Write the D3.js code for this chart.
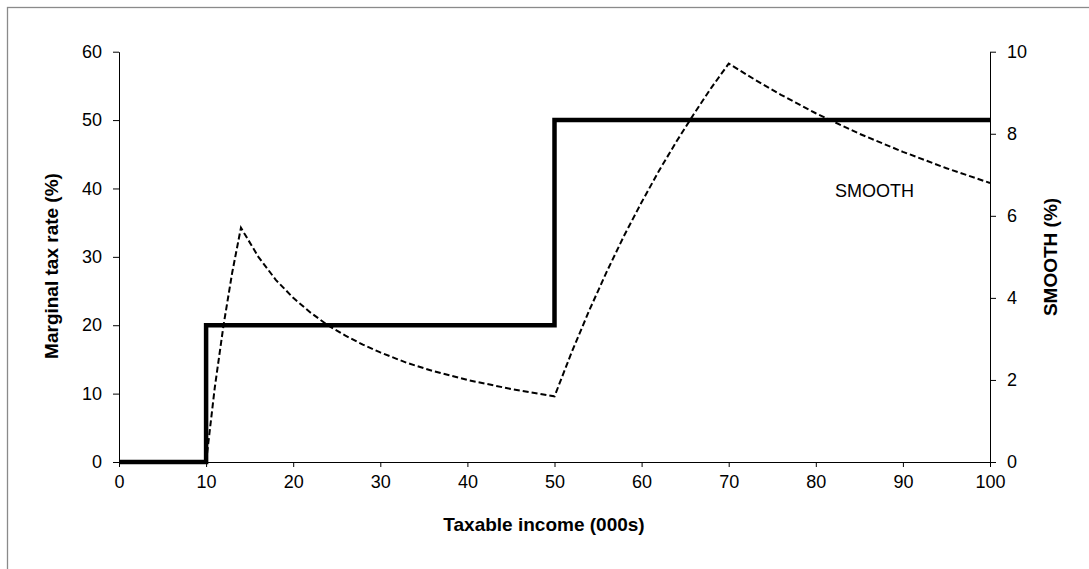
<!DOCTYPE html>
<html>
<head>
<meta charset="utf-8">
<script src="https://cdn.jsdelivr.net/npm/d3@7"></script>
<style>
  html, body { margin: 0; padding: 0; background: #fff; }
  svg { display: block; font-family: "Liberation Sans", Arial, sans-serif; }
</style>
</head>
<body>
<svg id="chart" width="1089" height="569"></svg>
<script>
// ---- data ----
const xTicks = [0, 10, 20, 30, 40, 50, 60, 70, 80, 90, 100];
const leftTicks = [0, 10, 20, 30, 40, 50, 60];
const rightTicks = [0, 2, 4, 6, 8, 10];

// Marginal tax rate (%) by taxable income (000s): step schedule
const rateIncome = [0, 10, 10, 50, 50, 100];
const rateValues = [0, 0, 20, 20, 50, 50];

// SMOOTH (%) by taxable income (000s)
const smoothIncome = [10, 11, 12, 13, 14, 16, 18, 20, 22, 24, 26, 28, 30, 33, 36, 40, 45, 50,
                      52, 54, 56, 58, 60, 62, 64, 66, 68, 70, 73, 76, 80, 85, 90, 95, 100];
const smoothValues = [0, 1.82, 3.33, 4.62, 5.71, 5.0, 4.44, 4.0, 3.64, 3.33, 3.08, 2.86, 2.67, 2.42, 2.22, 2.0, 1.78, 1.6,
                      2.69, 3.70, 4.64, 5.52, 6.33, 7.10, 7.81, 8.48, 9.12, 9.71, 9.32, 8.95, 8.5, 8.0, 7.56, 7.16, 6.8];

const xTitle = "Taxable income (000s)";
const leftTitle = "Marginal tax rate (%)";
const rightTitle = "SMOOTH (%)";
const seriesLabel = "SMOOTH";

// ---- layout ----
const svg = d3.select("#chart");
const plot = { left: 119, right: 990, top: 51.7, bottom: 462 };

const x = d3.scaleLinear().domain([0, 100]).range([plot.left, plot.right]);
const yL = d3.scaleLinear().domain([0, 60]).range([plot.bottom, plot.top]);
const yR = d3.scaleLinear().domain([0, 10]).range([plot.bottom, plot.top]);

// outer frame (left & top edges visible)
svg.append("rect")
  .attr("x", 7.5).attr("y", 7.5)
  .attr("width", 1200).attr("height", 700)
  .attr("fill", "none").attr("stroke", "#8a8a8a").attr("stroke-width", 1.3);

const tickFont = "18px";

// x axis
const gx = svg.append("g").attr("transform", `translate(0,${plot.bottom})`)
  .call(d3.axisBottom(x).tickValues(xTicks).tickSize(5).tickPadding(8).tickSizeOuter(0));
// left axis
const gl = svg.append("g").attr("transform", `translate(${plot.left},0)`)
  .call(d3.axisLeft(yL).tickValues(leftTicks).tickSize(6).tickPadding(11).tickSizeOuter(0));
// right axis
const gr = svg.append("g").attr("transform", `translate(${plot.right},0)`)
  .call(d3.axisRight(yR).tickValues(rightTicks).tickSize(6).tickPadding(11).tickSizeOuter(0));

[gx, gl, gr].forEach(g => {
  g.selectAll("path, line").attr("stroke", "#000").attr("stroke-width", 1);
  g.selectAll("text").attr("fill", "#000").style("font-size", tickFont)
    .style("font-family", "'Liberation Sans', Arial, sans-serif");
});

// step line (left axis)
const rateData = rateIncome.map((d, i) => [d, rateValues[i]]);
svg.append("path")
  .datum(rateData)
  .attr("fill", "none")
  .attr("stroke", "#000")
  .attr("stroke-width", 4.5)
  .attr("stroke-linejoin", "miter")
  .attr("d", d3.line().x(d => x(d[0])).y(d => yL(d[1])));

// SMOOTH dashed line (right axis)
const smoothData = smoothIncome.map((d, i) => [d, smoothValues[i]]);
svg.append("path")
  .datum(smoothData)
  .attr("fill", "none")
  .attr("stroke", "#000")
  .attr("stroke-width", 2)
  .attr("stroke-dasharray", "6,3")
  .attr("d", d3.line().x(d => x(d[0])).y(d => yR(d[1])));

// series label
svg.append("text")
  .attr("x", 835).attr("y", 197)
  .style("font-size", "18px")
  .text(seriesLabel);

// axis titles
svg.append("text")
  .attr("x", 544).attr("y", 531)
  .attr("text-anchor", "middle")
  .style("font-size", "19px").style("font-weight", "bold")
  .text(xTitle);

svg.append("text")
  .attr("transform", `translate(58,266) rotate(-90)`)
  .attr("text-anchor", "middle")
  .style("font-size", "19px").style("font-weight", "bold")
  .text(leftTitle);

svg.append("text")
  .attr("transform", `translate(1057,257) rotate(-90)`)
  .attr("text-anchor", "middle")
  .style("font-size", "19px").style("font-weight", "bold")
  .text(rightTitle);
</script>
</body>
</html>
